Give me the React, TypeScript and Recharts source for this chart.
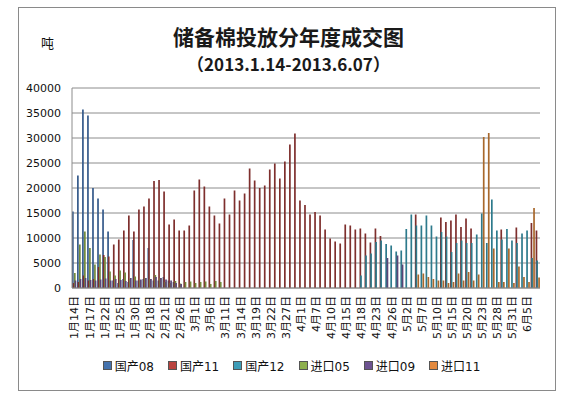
import React from 'react';
import { BarChart, Bar, XAxis, YAxis, CartesianGrid, Legend } from 'recharts';

const categories = ['1月14日','1月15日','1月16日','1月17日','1月18日','1月21日','1月22日','1月23日','1月24日','1月25日','1月28日','1月29日','1月30日','1月31日','2月1日','2月18日','2月19日','2月20日','2月21日','2月22日','2月25日','2月26日','2月27日','2月28日','3月1日','3月4日','3月5日','3月6日','3月7日','3月8日','3月11日','3月12日','3月13日','3月14日','3月15日','3月18日','3月19日','3月20日','3月21日','3月22日','3月25日','3月26日','3月27日','3月28日','3月29日','4月1日','4月2日','4月3日','4月7日','4月8日','4月9日','4月10日','4月11日','4月12日','4月15日','4月16日','4月17日','4月18日','4月19日','4月22日','4月23日','4月24日','4月25日','4月26日','4月27日','4月28日','5月2日','5月3日','5月6日','5月7日','5月8日','5月9日','5月10日','5月13日','5月14日','5月15日','5月16日','5月17日','5月20日','5月21日','5月22日','5月23日','5月24日','5月27日','5月28日','5月29日','5月30日','5月31日','6月3日','6月4日','6月5日','6月6日','6月7日'];

const guochan08 = [15300,22500,35700,34500,20000,17900,15700,11300,1500,1000,1800,1200,9600,1500,1800,8000,1500,1500,2200,1500,1200,
  0,0,0,0,0,0,0,0,0,0,0,0,0,0,0,0,0,0,0,0,0,0,0,0,0,0,0,0,0,0,0,0,0,0,0,0,0,0,0,0,0,0,0,0,0,0,0,0,0,0,0,0,0,0,0,0,0,0,0,0,0,0,0,0,0,0,0,0,0,0,0,0];

const guochan11 = [1000,1200,2500,1500,1800,4200,6600,6300,
  8700,9700,11500,14500,11300,15700,16300,17900,
  21400,21600,19300,12700,13700,11500,11500,12500,
  19500,21700,20300,16300,14500,12900,17900,14700,
  19500,17500,18900,23900,21500,20000,20500,23700,
  24900,21900,25300,28700,30900,17500,16600,14700,
  15200,14500,11700,9900,9300,8900,12700,12500,
  11700,11900,10900,9100,11900,10400,0,0,
  0,0,0,0,14700,0,0,0,
  0,14100,13200,13500,14700,12200,13900,11900,
  0,0,0,0,0,11700,0,0,
  12100,0,0,13000,11500];

const guochan12 = [0,0,0,0,0,0,0,0,0,0,0,0,0,0,0,0,0,0,0,0,0,0,0,0,0,0,0,0,0,0,0,0,0,0,0,0,0,0,0,0,0,0,0,0,0,0,0,0,0,0,0,0,0,0,0,0,0,
  2500,6500,6900,9200,9500,8800,8500,7300,
  7500,11800,14700,12500,12500,14500,12500,10300,
  11200,10300,7200,9000,9500,9000,9000,10700,
  14900,9000,17700,11500,9700,11800,9500,9000,
  10900,11500,6000,5500];

const jinkou05 = [3000,8700,11300,8000,4700,6700,6200,3300,
  2500,3500,3100,1800,2300,1500,2000,1800,
  2600,2000,1200,1000,1400,900,1200,1300,
  1000,1200,1300,800,1400,1200,
  0,0,0,0,0,0,0,0,0,0,0,0,0,0,0,0,0,0,0,0,0,0,0,0,0,0,0,0,0,0,0,0,0,0,0,0,0,0,0,0,0,0,0,0,0,0,0,0,0,0,0,0,0,0,0,0,0,0,0,0,0,0,0];

const jinkou09 = [1500,1800,2000,1600,1500,1700,1900,1500,
  1800,1600,1400,2000,1500,1700,2000,1800,
  2200,2000,1700,1500,1000,800,
  0,0,0,0,0,0,0,0,0,0,0,0,0,0,0,0,0,0,0,0,0,0,0,0,0,0,0,0,0,0,0,0,0,0,0,0,0,0,0,0,
  6000,0,6500,4700,0,0,0,0,
  0,0,0,0,0,0,0,0,0,0,0,0,0,0,0,0,0,0,0,0,0,0,0];

const jinkou11 = [0,0,0,0,0,0,0,0,0,0,0,0,0,0,0,0,0,0,0,0,0,0,0,0,0,0,0,0,0,0,0,0,0,0,0,0,0,0,0,0,0,0,0,0,0,0,0,0,0,0,0,0,0,0,0,0,0,0,0,0,0,0,0,0,0,0,0,0,
  2700,2900,2200,1800,1500,1500,1000,1200,
  2900,1500,3200,1500,2700,30200,31000,7900,
  1200,1200,7900,1000,4300,2200,1200,16000,2100];

const seriesNames = ['国产08', '国产11', '国产12', '进口05', '进口09', '进口11'];
const seriesKeys = ['g08', 'g11', 'g12', 'j05', 'j09', 'j11'];
const barColors = ['#34598A', '#7E2F2D', '#2D7A8C', '#738A3C', '#5B4677', '#A8682C'];
const legendColors = ['#4573AE', '#B9433F', '#3E9DB8', '#8EB04E', '#6D5391', '#E3893E'];
const yTicks = [0, 5000, 10000, 15000, 20000, 25000, 30000, 35000, 40000];

const seriesValues = [guochan08, guochan11, guochan12, jinkou05, jinkou09, jinkou11];

const data = categories.map((date, i) => {
  const row: Record<string, any> = { date };
  seriesKeys.forEach((k, s) => { row[k] = seriesValues[s][i]; });
  return row;
});

const FONT = '"DejaVu Sans", "Noto Sans CJK SC", sans-serif';

const XTick = (props: any) => {
  const { x, y, payload } = props;
  return (
    <text
      transform={`translate(${x},${y}) rotate(-90)`}
      textAnchor="end"
      dy="0.36em"
      fontSize={11}
      fontFamily={FONT}
      fill="#111"
    >
      {payload.value}
    </text>
  );
};

const renderLegend = () => (
  <div style={{ display: 'flex', justifyContent: 'center', alignItems: 'center', paddingLeft: 10, fontFamily: FONT, fontSize: 12, color: '#111' }}>
    {seriesNames.map((n, i) => (
      <div key={n} style={{ display: 'flex', alignItems: 'center', marginRight: i < seriesNames.length - 1 ? 14 : 0 }}>
        <span style={{ display: 'inline-block', width: 7, height: 7, background: legendColors[i], border: '0.5px solid #555', marginRight: 3 }} />
        <span>{n}</span>
      </div>
    ))}
  </div>
);

export default function App() {
  return (
    <div style={{ position: 'absolute', left: 0, top: 0, width: 573, height: 399, background: '#fff', overflow: 'hidden' }}>
      <div style={{ position: 'absolute', left: 18, top: 7, width: 536, height: 382, border: '1px solid #8a8a8a' }} />
      <div style={{ position: 'absolute', left: 0, top: 0 }}>
        <BarChart
          width={573}
          height={399}
          data={data}
          margin={{ top: 88, right: 33, bottom: 51, left: 12 }}
          barSize={1.7}
          barGap={-1.05}
          barCategoryGap={0}
        >
          <CartesianGrid vertical={false} stroke="#8c8c8c" />
          <XAxis
            dataKey="date"
            interval={2}
            tickLine={false}
            axisLine={{ stroke: '#8c8c8c' }}
            height={60}
            tick={<XTick />}
          />
          <YAxis
            domain={[0, 40000]}
            ticks={yTicks}
            interval={0}
            tickLine={false}
            axisLine={{ stroke: '#8c8c8c' }}
            width={60}
            tickMargin={5}
            tick={{ fontSize: 11, fill: '#111', fontFamily: FONT }}
          />
          <Legend
            layout="horizontal"
            verticalAlign="middle"
            align="center"
            wrapperStyle={{ top: 357, left: 0, width: 573, height: 18 }}
            content={renderLegend}
          />
          {seriesKeys.map((k, i) => (
            <Bar key={k} dataKey={k} name={seriesNames[i]} fill={barColors[i]} isAnimationActive={false} />
          ))}
        </BarChart>
      </div>
      <div style={{ position: 'absolute', left: 0, width: 573, top: 22, textAlign: 'center', fontFamily: '"Noto Sans CJK SC", sans-serif', fontWeight: 700, fontSize: 21, color: '#1a1a1a', lineHeight: '28px', paddingLeft: 2 }}>
        储备棉投放分年度成交图
      </div>
      <div style={{ position: 'absolute', left: 0, width: 573, top: 52, textAlign: 'center', fontFamily: '"Noto Sans CJK SC", sans-serif', fontWeight: 700, fontSize: 17, color: '#1a1a1a', lineHeight: '24px', paddingLeft: 2 }}>
        （2013.1.14-2013.6.07）
      </div>
      <div style={{ position: 'absolute', left: 41, top: 35, fontFamily: '"Noto Sans CJK SC", sans-serif', fontSize: 13, color: '#111', lineHeight: '16px' }}>
        吨
      </div>
    </div>
  );
}
